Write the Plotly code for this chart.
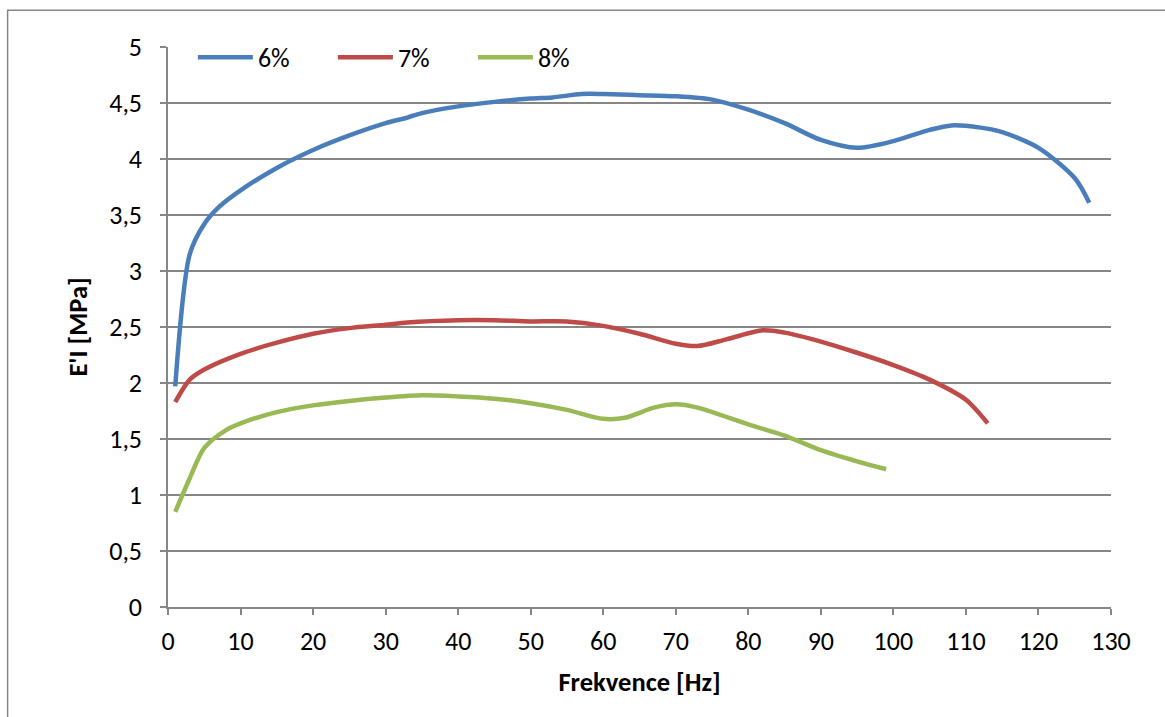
import plotly.graph_objects as go

# Frequency sweep (Hz) and storage modulus E'I (MPa) for each concentration
freq_6 = [1, 3, 5, 7, 10, 15, 20, 25, 30, 33, 35, 40, 45, 50, 53, 57, 60, 65, 70, 75,
          80, 85, 90, 95, 100, 105, 108, 112, 115, 120, 125, 127]
mod_6 = [1.97, 3.15, 3.42, 3.57, 3.72, 3.92, 4.08, 4.21, 4.32, 4.37, 4.41, 4.47, 4.51,
         4.54, 4.55, 4.58, 4.58, 4.57, 4.56, 4.53, 4.44, 4.32, 4.17, 4.10, 4.16, 4.26,
         4.30, 4.28, 4.24, 4.10, 3.83, 3.61]

freq_7 = [1, 3, 5, 10, 15, 20, 25, 30, 33, 40, 45, 50, 55, 60, 65, 70, 73, 77, 82, 85,
          90, 95, 100, 105, 110, 113]
mod_7 = [1.83, 2.03, 2.12, 2.26, 2.36, 2.44, 2.49, 2.52, 2.54, 2.56, 2.56, 2.55, 2.55,
         2.51, 2.44, 2.35, 2.33, 2.39, 2.47, 2.45, 2.37, 2.27, 2.16, 2.03, 1.85, 1.64]

freq_8 = [1, 3, 5, 8, 10, 15, 20, 25, 30, 35, 40, 45, 50, 55, 60, 63, 67, 70, 73, 80,
          85, 90, 95, 99]
mod_8 = [0.85, 1.15, 1.42, 1.58, 1.64, 1.74, 1.80, 1.84, 1.87, 1.89, 1.88, 1.86, 1.82,
         1.76, 1.68, 1.69, 1.78, 1.81, 1.78, 1.63, 1.53, 1.40, 1.30, 1.23]

series_names = ["6%", "7%", "8%"]
series_colors = ["#4A7EBB", "#BE4B48", "#98B954"]

x_ticks = list(range(0, 131, 10))
y_ticks = [0, 0.5, 1, 1.5, 2, 2.5, 3, 3.5, 4, 4.5, 5]
y_tick_text = ["0", "0,5", "1", "1,5", "2", "2,5", "3", "3,5", "4", "4,5", "5"]

FONT = "Carlito, Calibri, Lato, sans-serif"
GRID = "#868686"

fig = go.Figure()
for xs, ys, name, color in zip([freq_6, freq_7, freq_8], [mod_6, mod_7, mod_8],
                               series_names, series_colors):
    fig.add_trace(go.Scatter(
        x=xs, y=ys, name=name, mode="lines",
        line=dict(color=color, width=4.5, shape="spline", smoothing=0.8),
    ))

fig.update_layout(
    width=1165, height=717,
    margin=dict(l=167.5, r=54, t=46.7, b=110.3),
    paper_bgcolor="white", plot_bgcolor="white",
    font=dict(family=FONT, size=26, color="black"),
    legend=dict(
        orientation="h", x=0.0264, y=0.9816, xanchor="left", yanchor="middle",
        bgcolor="rgba(0,0,0,0)", itemwidth=55,
        entrywidth=70, entrywidthmode="pixels",
        font=dict(family=FONT, size=26, color="black"),
        tracegroupgap=0, itemclick=False,
    ),
    xaxis=dict(
        range=[0, 130], tickvals=x_ticks, ticktext=[str(v) for v in x_ticks],
        showgrid=False, zeroline=False,
        showline=True, linecolor=GRID, linewidth=1.5,
        ticks="outside", ticklen=6, tickcolor=GRID, tickwidth=1.5,
        ticklabelstandoff=4,
        title=dict(text="<b>Frekvence [Hz]</b>", font=dict(size=26.5), standoff=16),
    ),
    yaxis=dict(
        range=[0, 5], tickvals=y_ticks, ticktext=y_tick_text,
        showgrid=True, gridcolor=GRID, gridwidth=1.5, zeroline=False,
        showline=True, linecolor=GRID, linewidth=1.5,
        ticks="outside", ticklen=6, tickcolor=GRID, tickwidth=1.5,
        ticklabelstandoff=13,
        title=dict(text="<b>E'I [MPa]</b>", font=dict(size=26.5), standoff=14),
    ),
    showlegend=True,
)

# Outer chart-area frame
fig.add_shape(type="rect", xref="paper", yref="paper",
              x0=-0.1701, x1=1.07, y0=-0.22, y1=1.0655,
              line=dict(color=GRID, width=1.5), layer="below")

fig.write_html("out.html")
